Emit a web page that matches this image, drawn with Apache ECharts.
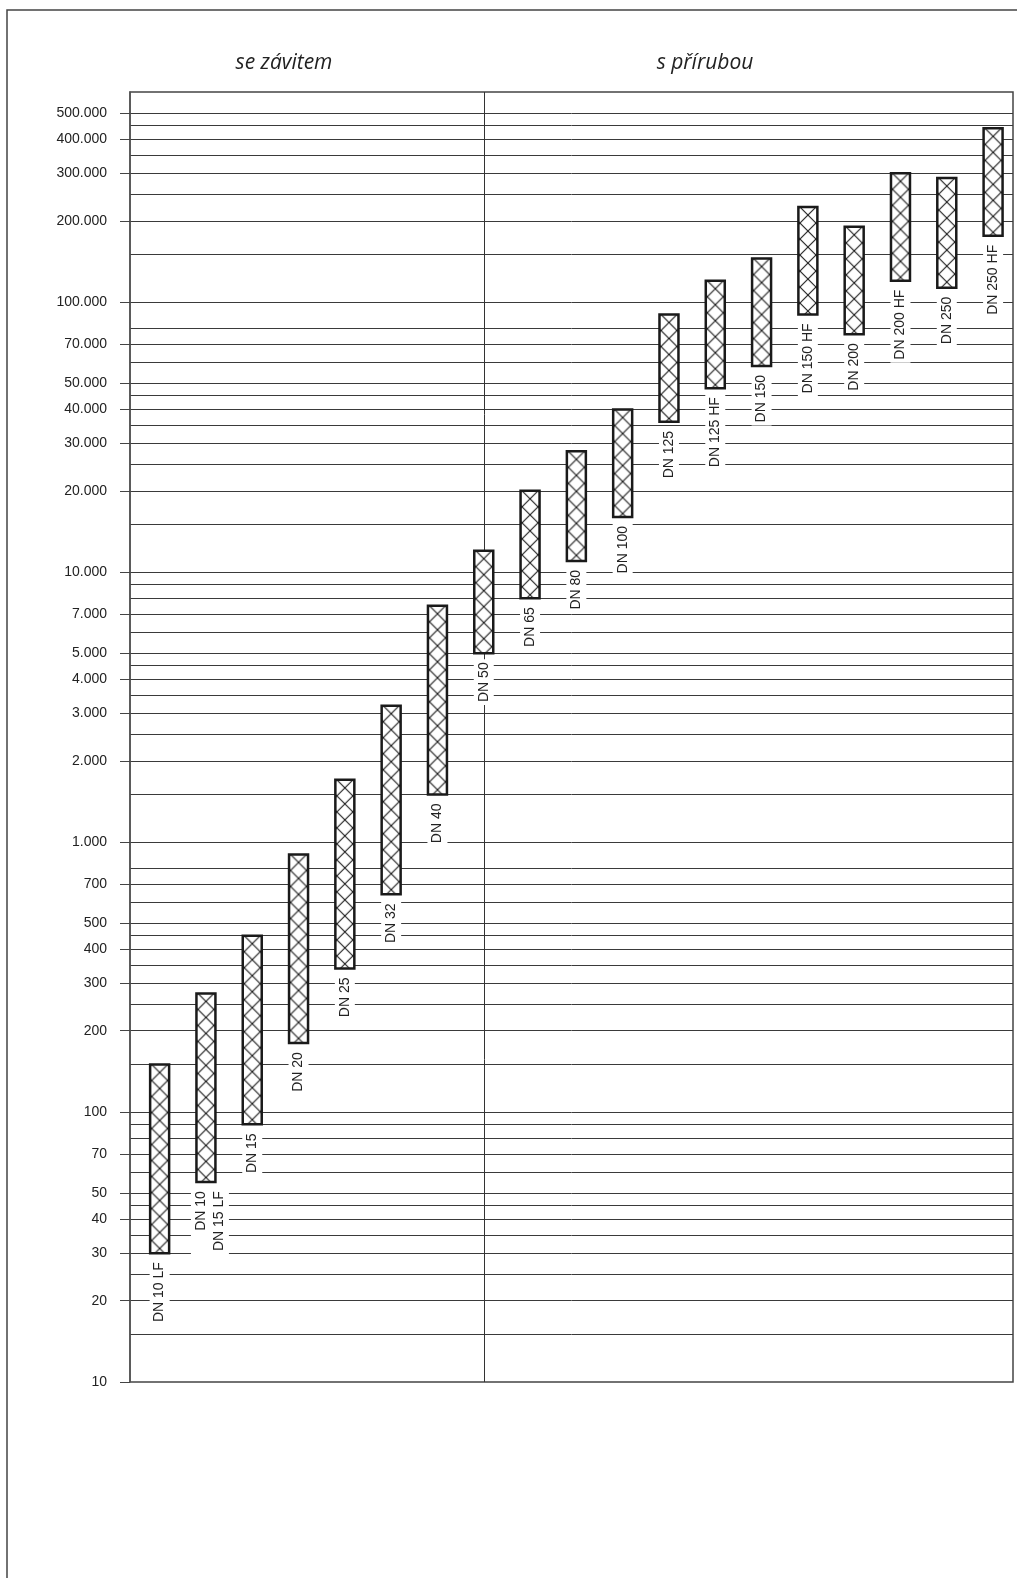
<!DOCTYPE html>
<html>
<head>
<meta charset="utf-8">
<script src="https://cdn.jsdelivr.net/npm/echarts@6/dist/echarts.min.js"></script>
<style>
html, body { margin: 0; padding: 0; background: #fff; }
#chart { width: 1017px; height: 1578px; }
</style>
</head>
<body>
<div id="chart"></div>
<script>
// valve sizes, left group threaded (se závitem), right group flanged (s přírubou)
const sizes = ['DN 10 LF', 'DN 10\nDN 15 LF', 'DN 15', 'DN 20', 'DN 25', 'DN 32', 'DN 40',
    'DN 50', 'DN 65', 'DN 80', 'DN 100', 'DN 125', 'DN 125 HF', 'DN 150', 'DN 150 HF',
    'DN 200', 'DN 200 HF', 'DN 250', 'DN 250 HF'];
const rangeLow = [30, 55, 90, 180, 340, 640, 1500, 5000, 8000, 11000, 16000, 36000, 48000,
    58000, 90000, 76000, 120000, 113000, 176000];
const rangeHigh = [150, 275, 450, 900, 1700, 3200, 7500, 12000, 20000, 28000, 40000, 90000,
    120000, 145000, 225000, 190000, 300000, 288000, 440000];
const groupTitles = ['se závitem', 's přírubou'];
const firstFlanged = 7;
const labelValues = [10, 20, 30, 40, 50, 70, 100, 200, 300, 400, 500, 700, 1000, 2000, 3000,
    4000, 5000, 7000, 10000, 20000, 30000, 40000, 50000, 70000, 100000, 200000, 300000,
    400000, 500000];
const gridValues = [15, 20, 25, 30, 35, 40, 45, 50, 60, 70, 80, 90, 100, 150, 200, 250, 300,
    350, 400, 450, 500, 600, 700, 800, 1000, 1500, 2000, 2500, 3000, 3500, 4000, 4500, 5000,
    6000, 7000, 8000, 9000, 10000, 15000, 20000, 25000, 30000, 35000, 40000, 45000, 50000,
    60000, 70000, 80000, 100000, 150000, 200000, 250000, 300000, 350000, 400000, 450000,
    500000];

const fmt = (v) => String(v).replace(/\B(?=(\d{3})+(?!\d))/g, '.');

// cross hatch tile: one X per tile
const P = 16;
const hatch = document.createElement('canvas');
hatch.width = P;
hatch.height = P;
const hc = hatch.getContext('2d');
hc.fillStyle = '#fff';
hc.fillRect(0, 0, P, P);
hc.strokeStyle = '#1a1a1a';
hc.lineWidth = 1.1;
hc.beginPath();
hc.moveTo(0, 0);
hc.lineTo(P, P);
hc.moveTo(P, 0);
hc.lineTo(0, P);
hc.stroke();

const font = '14px "Liberation Sans", Arial, sans-serif';

const chart = echarts.init(document.getElementById('chart'));
const option = {
    animation: false,
    backgroundColor: '#fff',
    grid: {
        left: 130,
        right: 4,
        top: 92,
        bottom: 196,
        show: true,
        borderColor: '#444',
        borderWidth: 1.5
    },
    xAxis: {
        type: 'value',
        min: -0.64,
        max: 18.43,
        axisLine: { show: false },
        axisLabel: { show: false },
        axisTick: { show: false, customValues: [firstFlanged] },
        splitLine: { show: true, lineStyle: { color: '#333', width: 1 } }
    },
    yAxis: [{
        type: 'log',
        logBase: 10,
        min: 10,
        max: 600000,
        position: 'left',
        axisLine: { show: true, onZero: false, lineStyle: { color: '#555', width: 1.5 } },
        axisTick: { show: true, length: 10, customValues: labelValues, lineStyle: { color: '#444' } },
        axisLabel: {
            customValues: labelValues,
            margin: 23,
            color: '#222',
            fontFamily: '"Liberation Sans", Arial, sans-serif',
            fontSize: 14,
            formatter: fmt
        },
        splitLine: { show: false }
    }, {
        type: 'log',
        logBase: 10,
        min: 10,
        max: 600000,
        position: 'left',
        axisLine: { show: false, onZero: false },
        axisLabel: { show: false },
        axisTick: { show: false, customValues: gridValues },
        splitLine: { show: true, lineStyle: { color: '#3a3a3a', width: 1 } }
    }],
    graphic: [{
        type: 'rect',
        z: -10,
        shape: { x: 7, y: 10, width: 1040, height: 1620 },
        style: { fill: 'none', stroke: '#444', lineWidth: 1.5 }
    }, {
        type: 'text',
        x: 284,
        y: 63,
        style: {
            text: groupTitles[0], align: 'center', verticalAlign: 'middle',
            font: 'italic 21px "Open Sans", sans-serif', fill: '#222'
        }
    }, {
        type: 'text',
        x: 705,
        y: 63,
        style: {
            text: groupTitles[1], align: 'center', verticalAlign: 'middle',
            font: 'italic 21px "Open Sans", sans-serif', fill: '#222'
        }
    }],
    series: [{
        type: 'custom',
        xAxisIndex: 0,
        yAxisIndex: 0,
        clip: false,
        data: sizes.map((s, i) => [i, rangeLow[i], rangeHigh[i]]),
        renderItem: function(params, api) {
            const i = params.dataIndex;
            const top = api.coord([api.value(0), api.value(2)]);
            const bot = api.coord([api.value(0), api.value(1)]);
            const w = api.size([0.41, 0])[0];
            const x0 = top[0] - w / 2;
            return {
                type: 'group',
                children: [{
                    type: 'rect',
                    shape: { x: x0, y: top[1], width: w, height: bot[1] - top[1] },
                    style: {
                        fill: { image: hatch, repeat: 'repeat', x: top[0] - P / 2, y: top[1] },
                        stroke: '#1a1a1a',
                        lineWidth: 2.5
                    }
                }, {
                    type: 'text',
                    x: top[0] + (sizes[i].indexOf('\n') > -1 ? 4 : 0),
                    y: bot[1] + 6,
                    rotation: Math.PI / 2,
                    style: {
                        text: sizes[i],
                        align: 'right',
                        verticalAlign: 'middle',
                        font: font,
                        fill: '#222',
                        lineHeight: 18,
                        backgroundColor: '#fff',
                        padding: [1, 3, 1, 3]
                    }
                }]
            };
        }
    }]
};
chart.setOption(option);
</script>
</body>
</html>
